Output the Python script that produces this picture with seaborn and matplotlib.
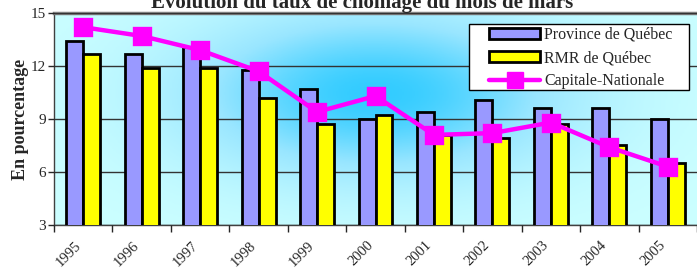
import numpy as np
import pandas as pd
import matplotlib
matplotlib.use("Agg")
import matplotlib.pyplot as plt
import seaborn as sns
from matplotlib.colors import LinearSegmentedColormap
from matplotlib.patches import Patch, Rectangle
from matplotlib.lines import Line2D

years = ["1995", "1996", "1997", "1998", "1999", "2000", "2001", "2002", "2003", "2004", "2005"]
province = [13.4, 12.7, 13.1, 11.8, 10.7, 9.0, 9.4, 10.1, 9.6, 9.6, 9.0]
rmr = [12.7, 11.9, 11.9, 10.2, 8.7, 9.2, 8.1, 7.9, 8.7, 7.5, 6.5]
capitale = [14.2, 13.7, 12.9, 11.7, 9.4, 10.3, 8.1, 8.2, 8.8, 7.4, 6.3]
series_names = ["Province de Québec", "RMR de Québec", "Capitale-Nationale"]
title = "Évolution du taux de chômage du mois de mars"
ylabel = "En pourcentage"

sns.set_style("white")
plt.rcParams['font.family'] = ['Liberation Serif', 'DejaVu Serif']

df = pd.DataFrame({
    "Année": years * 2,
    "Taux": province + rmr,
    "Série": [series_names[0]] * len(years) + [series_names[1]] * len(years),
})

fig = plt.figure(figsize=(6.97, 2.72), dpi=100)
ax = fig.add_axes([0.0775, 0.173, 0.9225, 0.779])

# background gradient
nx, ny = 300, 150
xx, yy = np.meshgrid(np.linspace(0, 1, nx), np.linspace(0, 1, ny))
g = np.exp(-(((xx - 0.50) / 0.30) ** 2 + ((yy - 0.62) / 0.40) ** 2))
cmap = LinearSegmentedColormap.from_list("bg", ["#CCFFFF", "#99E6FF", "#33CCFF"])
ax.imshow(g, extent=[0, 1, 0, 1], transform=ax.transAxes, origin="lower",
          cmap=cmap, aspect="auto", zorder=0, vmin=0, vmax=1)

sns.barplot(data=df, x="Année", y="Taux", hue="Série",
            palette=["#9999FF", "#FFFF00"], saturation=1, edgecolor="black", linewidth=2,
            width=0.58, gap=0, ax=ax, zorder=3, legend=False)

sns.pointplot(x=years, y=capitale, color="#FF00FF", marker="s", markersize=12,
              linewidth=3.2, ax=ax, zorder=5)

ax.set_ylim(3, 15)
ax.set_xlim(-0.5, 10.5)
ax.set_yticks([3, 6, 9, 12, 15])
ax.set_yticklabels(["3", "6", "9", "12", "15"], fontsize=11)
ax.yaxis.grid(True, color="#333333", linewidth=1)
ax.set_axisbelow(False)
for l in ax.get_ygridlines():
    l.set_zorder(1)

ax.set_xticks(range(len(years)))
ax.set_xticklabels(years, rotation=45, fontsize=10.5, ha="right")
ax.tick_params(axis="x", length=0, pad=10)
ax.tick_params(axis="y", length=4, direction="out", left=True, width=1, pad=2)
ax.set_xticks(np.arange(-0.5, 10.6, 1), minor=True)
ax.tick_params(axis="x", which="minor", length=5, direction="out", bottom=True, width=1)

ax.set_xlabel("")
ax.set_ylabel(ylabel, fontsize=13, fontweight="bold", labelpad=1)

for s in ["left", "bottom"]:
    ax.spines[s].set_color("#404040")
    ax.spines[s].set_linewidth(1)
ax.spines["top"].set_color("#808080")
ax.spines["top"].set_linewidth(2.5)
ax.spines["right"].set_visible(False)

# legend box
ax.add_patch(Rectangle((0.645, 0.637), 0.343, 0.311, transform=ax.transAxes,
                       facecolor="white", edgecolor="black", linewidth=1, zorder=9))
handles = [
    Patch(facecolor="#9999FF", edgecolor="black", linewidth=2),
    Patch(facecolor="#FFFF00", edgecolor="black", linewidth=2),
    Line2D([0], [0], color="#FF00FF", lw=3.2, marker="s", markersize=12),
]
leg = ax.legend(handles, series_names, loc="upper left", bbox_to_anchor=(0.6765, 0.935),
                fontsize=11.5, frameon=False, borderpad=0, labelspacing=0.45,
                handlelength=3.2, handleheight=0.7, handletextpad=0.25, borderaxespad=0)
leg.set_zorder(10)

fig.text(0.519, 0.995, title, ha="center", va="center", fontsize=15, fontweight="bold")

fig.savefig("out.png", dpi=100)
